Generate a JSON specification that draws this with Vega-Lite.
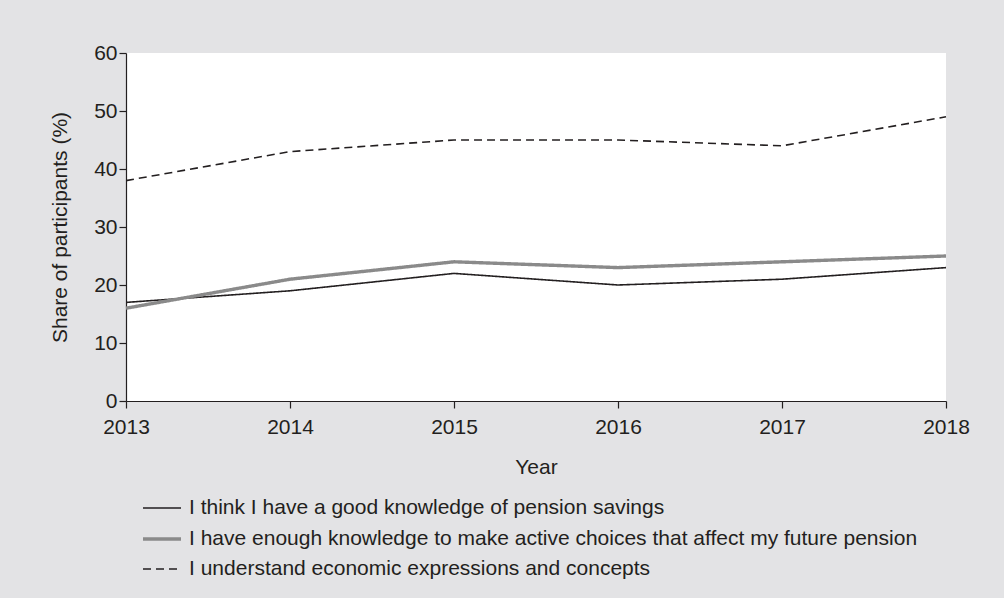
{
  "$schema": "https://vega.github.io/schema/vega-lite/v6.json",
  "autosize": {"type": "none"},
  "padding": {"left": 126, "top": 53, "right": 58, "bottom": 197},
  "width": 820,
  "height": 348,
  "background": "#e3e3e5",
  "config": {
    "view": {"fill": "white", "stroke": null},
    "font": "Liberation Sans",
    "axis": {"grid": false, "domainColor": "#231f20", "tickColor": "#231f20", "labelColor": "#231f20", "titleColor": "#231f20", "labelFontSize": 21, "titleFontSize": 21, "titleFontWeight": "normal", "tickSize": 7, "domainWidth": 1.2, "tickWidth": 1.2}
  },
  "data": {
    "values": [
      {"year": 2013, "series": "I think I have a good knowledge of pension savings", "value": 17},
      {"year": 2014, "series": "I think I have a good knowledge of pension savings", "value": 19},
      {"year": 2015, "series": "I think I have a good knowledge of pension savings", "value": 22},
      {"year": 2016, "series": "I think I have a good knowledge of pension savings", "value": 20},
      {"year": 2017, "series": "I think I have a good knowledge of pension savings", "value": 21},
      {"year": 2018, "series": "I think I have a good knowledge of pension savings", "value": 23},
      {"year": 2013, "series": "I have enough knowledge to make active choices that affect my future pension", "value": 16},
      {"year": 2014, "series": "I have enough knowledge to make active choices that affect my future pension", "value": 21},
      {"year": 2015, "series": "I have enough knowledge to make active choices that affect my future pension", "value": 24},
      {"year": 2016, "series": "I have enough knowledge to make active choices that affect my future pension", "value": 23},
      {"year": 2017, "series": "I have enough knowledge to make active choices that affect my future pension", "value": 24},
      {"year": 2018, "series": "I have enough knowledge to make active choices that affect my future pension", "value": 25},
      {"year": 2013, "series": "I understand economic expressions and concepts", "value": 38},
      {"year": 2014, "series": "I understand economic expressions and concepts", "value": 43},
      {"year": 2015, "series": "I understand economic expressions and concepts", "value": 45},
      {"year": 2016, "series": "I understand economic expressions and concepts", "value": 45},
      {"year": 2017, "series": "I understand economic expressions and concepts", "value": 44},
      {"year": 2018, "series": "I understand economic expressions and concepts", "value": 49}
    ]
  },
  "mark": {"type": "line"},
  "encoding": {
    "x": {"field": "year", "type": "quantitative", "title": "Year", "scale": {"domain": [2013, 2018], "zero": false, "nice": false}, "axis": {"tickCount": 6, "format": "d", "labelFlush": false, "labelPadding": 8, "titlePadding": 19}},
    "y": {"field": "value", "type": "quantitative", "title": "Share of participants (%)", "scale": {"domain": [0, 60], "nice": false}, "axis": {"values": [0, 10, 20, 30, 40, 50, 60], "labelPadding": 2, "titlePadding": 23}},
    "color": {"field": "series", "type": "nominal", "title": null,
      "scale": {"domain": ["I think I have a good knowledge of pension savings", "I have enough knowledge to make active choices that affect my future pension", "I understand economic expressions and concepts"], "range": ["#231f20", "#8a8a8a", "#231f20"]},
      "legend": {"orient": "none", "legendX": 15, "legendY": 435, "symbolType": "stroke", "symbolSize": 1444, "labelFontSize": 21, "labelColor": "#231f20", "labelOffset": 6, "rowPadding": 0, "labelLimit": 900}},
    "strokeDash": {"field": "series", "type": "nominal", "title": null,
      "scale": {"domain": ["I think I have a good knowledge of pension savings", "I have enough knowledge to make active choices that affect my future pension", "I understand economic expressions and concepts"], "range": [[1, 0], [1, 0], [8, 5]]}},
    "strokeWidth": {"field": "series", "type": "nominal", "title": null,
      "scale": {"type": "ordinal", "domain": ["I think I have a good knowledge of pension savings", "I have enough knowledge to make active choices that affect my future pension", "I understand economic expressions and concepts"], "range": [1.6, 3.4, 1.6]}}
  }
}
